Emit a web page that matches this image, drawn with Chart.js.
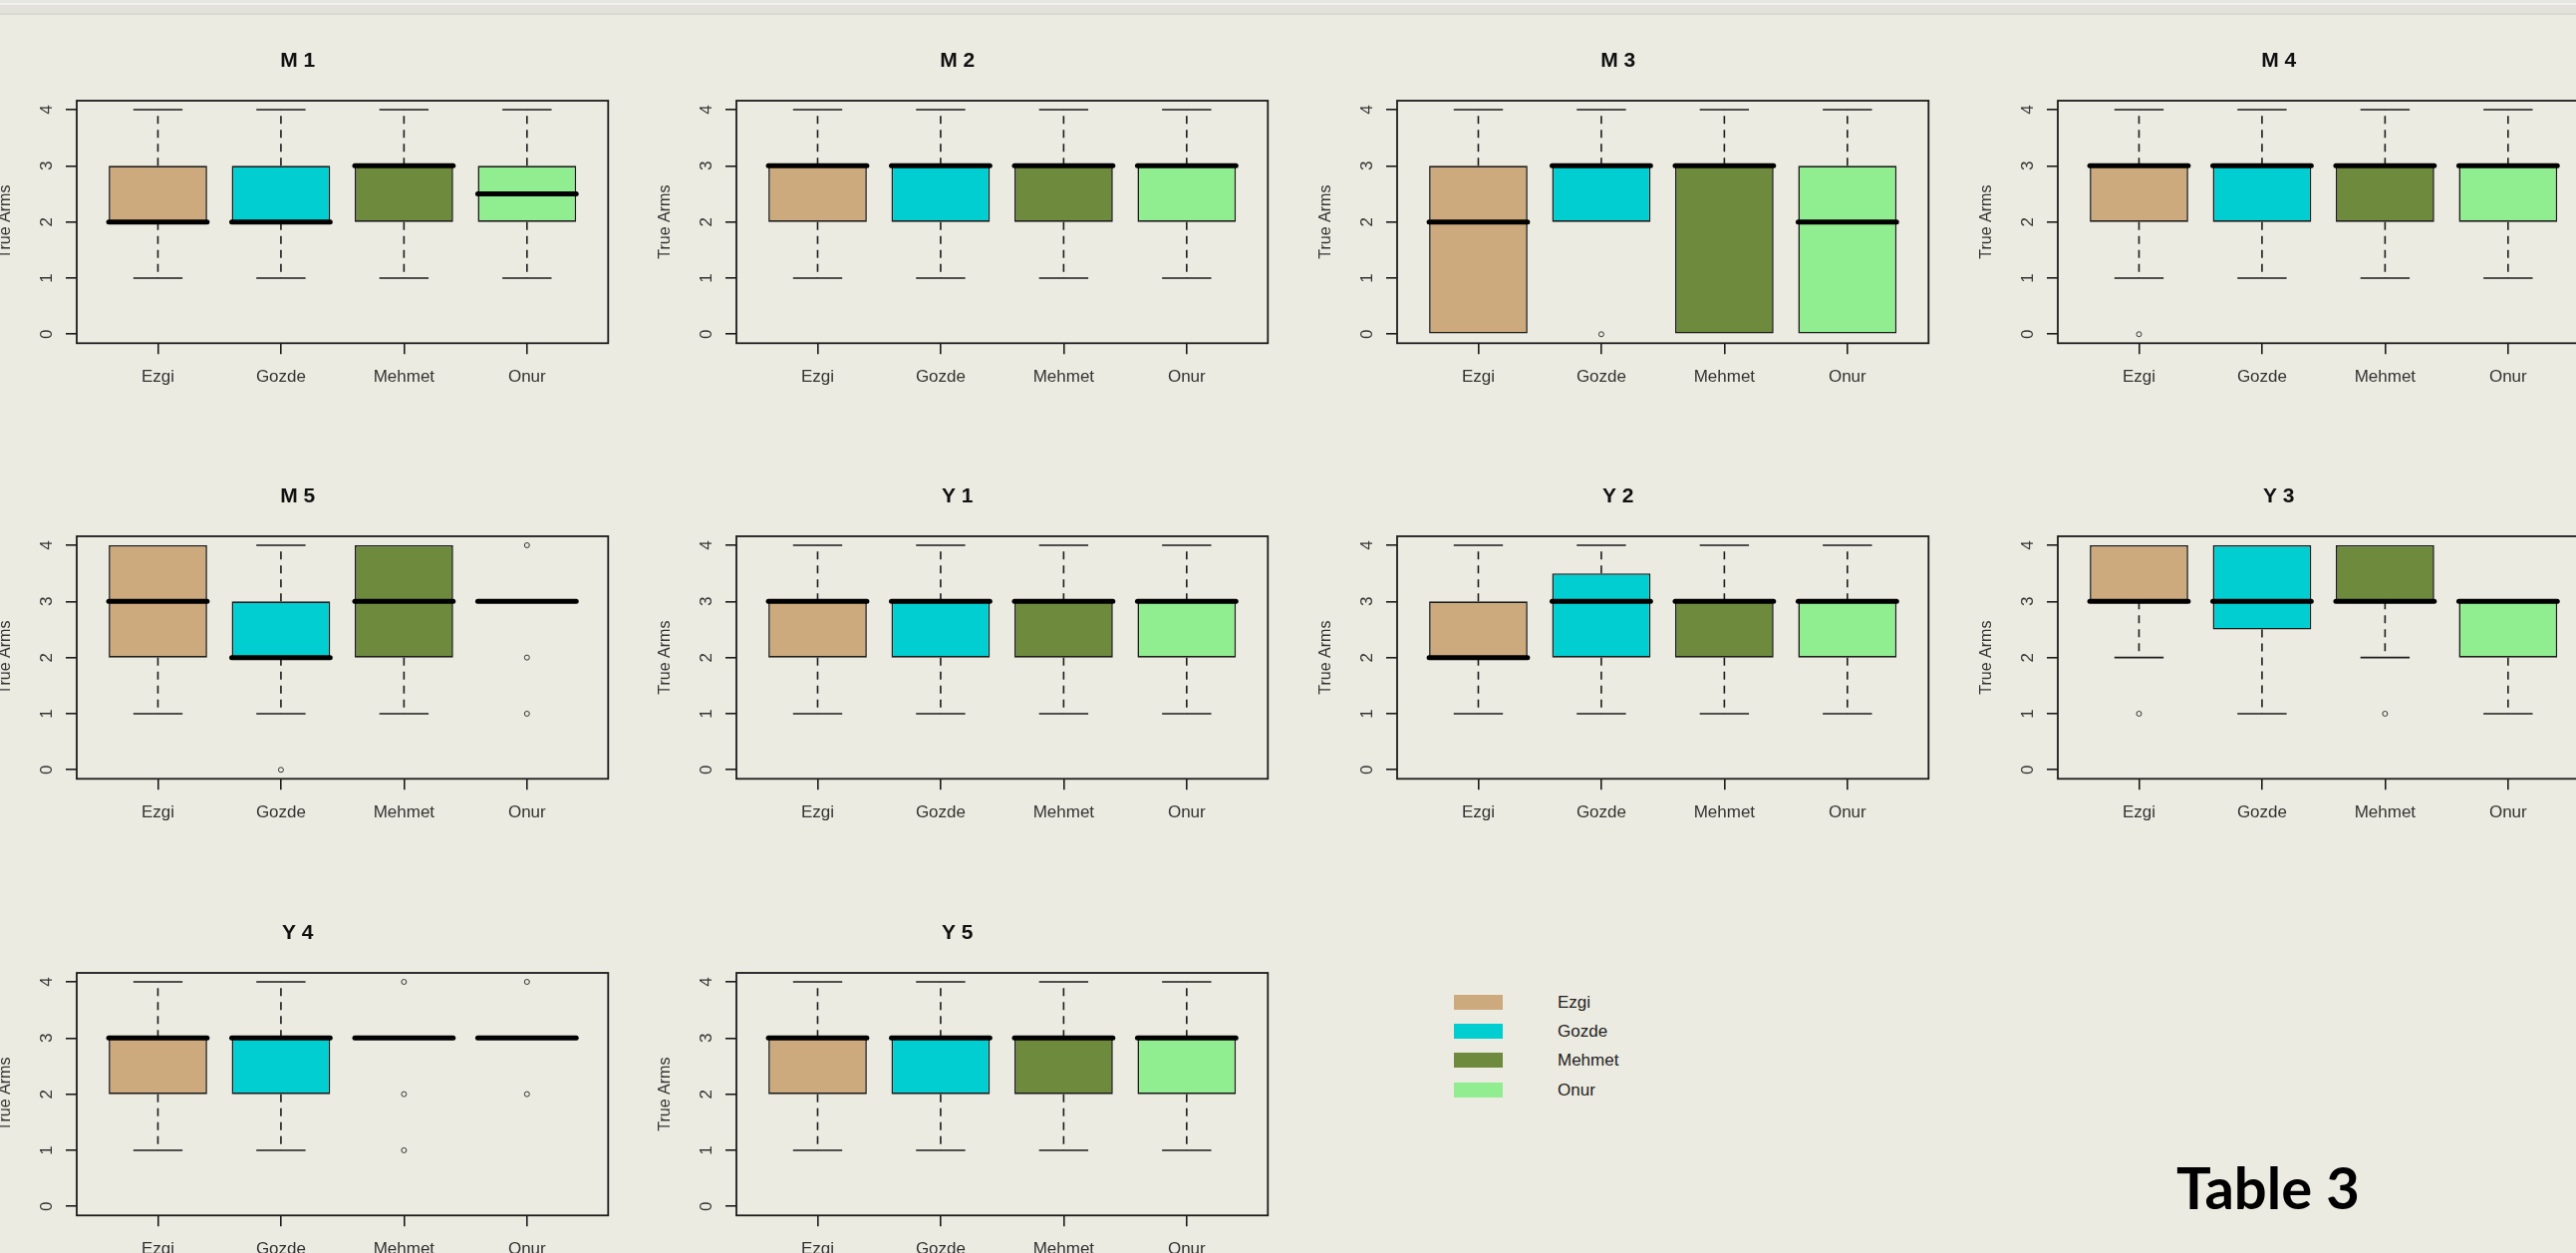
<!DOCTYPE html>
<html>
<head>
<meta charset="utf-8">
<title>True Arms</title>
<script src="https://cdn.jsdelivr.net/npm/chart.js@4.4.0/dist/chart.umd.min.js"></script>
<style>
  html, body { margin: 0; padding: 0; }
  body {
    width: 2585px; height: 1257px; overflow: hidden; position: relative;
    background: #ECEBE1; font-family: "Liberation Sans", Arial, sans-serif;
  }
  .topbar { position: absolute; left: 0; top: 0; width: 100%; height: 15px;
    background: linear-gradient(#E6E6E2 0 3px, #F1F1ED 3px 5px, #E3E1DB 5px 13px, #DAD9D1 13px 15px); }
  .panel { position: absolute; }
  .swatch { position: absolute; width: 49px; height: 15px; }
  .legend-text { position: absolute; font-size: 17px; color: #222; line-height: 17px; }
  #caption { position: absolute; left: 2184px; top: 1158px; font-family: Lato, "Open Sans", sans-serif;
    font-weight: bold; font-size: 58px; line-height: 66px; color: #000; }
</style>
</head>
<body>
<div class="topbar"></div>
<div id="caption">Table 3</div>
<script>
const categories = ['Ezgi', 'Gozde', 'Mehmet', 'Onur'];
const boxColors = ['#CDAA7D', '#00CED1', '#6E8B3D', '#90EE90'];
const panelTitles = ['M 1', 'M 2', 'M 3', 'M 4', 'M 5', 'Y 1', 'Y 2', 'Y 3', 'Y 4', 'Y 5'];

// one row per panel, one value per person
const whiskerLow = [
  [1, 1, 1, 1], [1, 1, 1, 1], [0, 2, 0, 0], [1, 1, 1, 1], [1, 1, 1, 3],
  [1, 1, 1, 1], [1, 1, 1, 1], [2, 1, 2, 1], [1, 1, 3, 3], [1, 1, 1, 1]
];
const lowerQuartile = [
  [2, 2, 2, 2], [2, 2, 2, 2], [0, 2, 0, 0], [2, 2, 2, 2], [2, 2, 2, 3],
  [2, 2, 2, 2], [2, 2, 2, 2], [3, 2.5, 3, 2], [2, 2, 3, 3], [2, 2, 2, 2]
];
const medians = [
  [2, 2, 3, 2.5], [3, 3, 3, 3], [2, 3, 3, 2], [3, 3, 3, 3], [3, 2, 3, 3],
  [3, 3, 3, 3], [2, 3, 3, 3], [3, 3, 3, 3], [3, 3, 3, 3], [3, 3, 3, 3]
];
const upperQuartile = [
  [3, 3, 3, 3], [3, 3, 3, 3], [3, 3, 3, 3], [3, 3, 3, 3], [4, 3, 4, 3],
  [3, 3, 3, 3], [3, 3.5, 3, 3], [4, 4, 4, 3], [3, 3, 3, 3], [3, 3, 3, 3]
];
const whiskerHigh = [
  [4, 4, 4, 4], [4, 4, 4, 4], [4, 4, 4, 4], [4, 4, 4, 4], [4, 4, 4, 3],
  [4, 4, 4, 4], [4, 4, 4, 4], [4, 4, 4, 3], [4, 4, 3, 3], [4, 4, 4, 4]
];
const outliers = [
  [[], [], [], []], [[], [], [], []], [[], [0], [], []], [[0], [], [], []], [[], [0], [], [4, 2, 1]],
  [[], [], [], []], [[], [], [], []], [[1], [], [1], []], [[], [], [4, 2, 1], [4, 2]], [[], [], [], []]
];

const ink = '#1c1c1c';
const plotLefts = [77, 739, 1402, 2065];
const plotTops = [101, 538, 976];
const axisWidth = 90;
const canvasW = 662, canvasH = 437;

// whiskers, staples, medians and the frame around the plot region
const boxPlotPlugin = {
  id: 'boxPlot',
  afterDatasetsDraw(chart) {
    const p = chart.options.panelIndex;
    const {ctx, chartArea, scales: {x, y}} = chart;
    const bars = chart.getDatasetMeta(0).data;
    ctx.save();
    categories.forEach((name, i) => {
      const cx = x.getPixelForValue(i + 1);
      const half = bars[i].width / 2;
      const yLo = y.getPixelForValue(whiskerLow[p][i]);
      const yQ1 = y.getPixelForValue(lowerQuartile[p][i]);
      const yQ3 = y.getPixelForValue(upperQuartile[p][i]);
      const yHi = y.getPixelForValue(whiskerHigh[p][i]);
      ctx.strokeStyle = ink;
      ctx.lineWidth = 1.6;
      ctx.lineCap = 'butt';
      ctx.setLineDash([8, 6]);
      ctx.beginPath();
      if (whiskerHigh[p][i] > upperQuartile[p][i]) { ctx.moveTo(cx, yQ3); ctx.lineTo(cx, yHi); }
      if (whiskerLow[p][i] < lowerQuartile[p][i]) { ctx.moveTo(cx, yQ1); ctx.lineTo(cx, yLo); }
      ctx.stroke();
      ctx.setLineDash([]);
      ctx.beginPath();
      if (whiskerHigh[p][i] > upperQuartile[p][i]) { ctx.moveTo(cx - half / 2, yHi); ctx.lineTo(cx + half / 2, yHi); }
      if (whiskerLow[p][i] < lowerQuartile[p][i]) { ctx.moveTo(cx - half / 2, yLo); ctx.lineTo(cx + half / 2, yLo); }
      ctx.stroke();
      const yMed = y.getPixelForValue(medians[p][i]);
      ctx.strokeStyle = '#000';
      ctx.lineWidth = 5;
      ctx.lineCap = 'round';
      ctx.beginPath();
      ctx.moveTo(cx - half, yMed);
      ctx.lineTo(cx + half, yMed);
      ctx.stroke();
    });
    ctx.strokeStyle = ink;
    ctx.lineWidth = 1.8;
    ctx.lineCap = 'butt';
    ctx.strokeRect(chartArea.left, chartArea.top, chartArea.right - chartArea.left, chartArea.bottom - chartArea.top);
    ctx.restore();
  }
};

function drawPanel(p) {
  const col = p % 4, row = Math.floor(p / 4);
  const canvas = document.createElement('canvas');
  canvas.className = 'panel';
  canvas.width = canvasW;
  canvas.height = canvasH;
  canvas.style.left = (plotLefts[col] - axisWidth) + 'px';
  canvas.style.top = (plotTops[row] - 101) + 'px';
  canvas.style.width = canvasW + 'px';
  canvas.style.height = canvasH + 'px';
  document.body.appendChild(canvas);

  const points = [];
  outliers[p].forEach((vals, i) => vals.forEach(v => points.push({x: i + 1, y: v})));

  new Chart(canvas, {
    type: 'bar',
    data: {
      datasets: [{
        data: categories.map((c, i) => ({x: i + 1, y: [lowerQuartile[p][i], upperQuartile[p][i]]})),
        backgroundColor: boxColors,
        borderColor: ink,
        borderWidth: 1.6,
        borderSkipped: false,
        barPercentage: 0.8,
        categoryPercentage: 1
      }, {
        type: 'scatter',
        data: points,
        pointStyle: 'circle',
        pointRadius: 2.5,
        borderWidth: 1,
        borderColor: '#333',
        backgroundColor: 'rgba(0,0,0,0)'
      }]
    },
    options: {
      panelIndex: p,
      responsive: false,
      animation: false,
      devicePixelRatio: 1,
      layout: {padding: {left: 0, right: canvasW - axisWidth - 533.3, top: 0, bottom: 0}},
      plugins: {
        legend: {display: false},
        tooltip: {enabled: false},
        title: {
          display: true,
          text: panelTitles[p],
          color: '#111',
          font: {family: '"Liberation Sans", Arial, sans-serif', size: 21, weight: 'bold'},
          padding: {top: 48.4, bottom: 27.4}
        }
      },
      scales: {
        x: {
          type: 'linear',
          offset: false,
          min: 0.34,
          max: 4.66,
          ticks: {
            stepSize: 1,
            includeBounds: false,
            autoSkip: false,
            maxRotation: 0,
            padding: 12.5,
            color: '#333',
            font: {family: '"Liberation Sans", Arial, sans-serif', size: 17},
            callback: v => categories[v - 1] || ''
          },
          grid: {offset: false, drawOnChartArea: false, tickLength: 11, color: ink, lineWidth: 1.6},
          border: {display: false},
          afterFit: s => { s.height = canvasH - 344.3; }
        },
        y: {
          min: -0.16,
          max: 4.16,
          ticks: {
            stepSize: 1,
            includeBounds: false,
            minRotation: 90,
            maxRotation: 90,
            crossAlign: 'center',
            padding: 13.5,
            color: '#333',
            font: {family: '"Liberation Sans", Arial, sans-serif', size: 17}
          },
          grid: {drawOnChartArea: false, tickLength: 11, color: ink, lineWidth: 1.6},
          border: {display: false},
          title: {
            display: true,
            text: 'True Arms',
            color: '#333',
            font: {family: '"Liberation Sans", Arial, sans-serif', size: 16},
            padding: {top: 9.4, bottom: 0}
          },
          afterFit: s => { s.width = axisWidth; }
        }
      }
    },
    plugins: [boxPlotPlugin]
  });
}

panelTitles.forEach((t, p) => drawPanel(p));

// colour key for the four people
const legendTops = [998, 1027, 1056, 1086];
categories.forEach((name, i) => {
  const sw = document.createElement('div');
  sw.className = 'swatch';
  sw.style.left = '1459px';
  sw.style.top = legendTops[i] + 'px';
  sw.style.background = boxColors[i];
  document.body.appendChild(sw);
  const label = document.createElement('div');
  label.className = 'legend-text';
  label.style.left = '1563px';
  label.style.top = (legendTops[i] - 1) + 'px';
  label.textContent = name;
  document.body.appendChild(label);
});
</script>
</body>
</html>
